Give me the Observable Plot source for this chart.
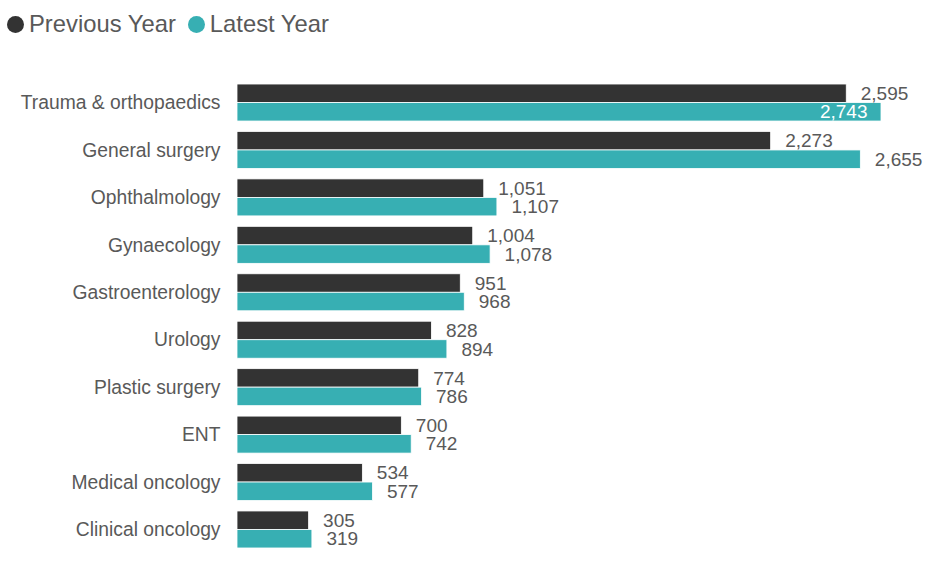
<!DOCTYPE html>
<html>
<head>
<meta charset="utf-8">
<script src="https://cdn.jsdelivr.net/npm/d3@7"></script>
<script src="https://cdn.jsdelivr.net/npm/@observablehq/plot@0.6"></script>
<style>
  html, body { margin: 0; padding: 0; background: #fff; }
  body { width: 930px; font-family: "Liberation Sans", Arial, sans-serif; }
  .legend { height: 50px; display: flex; align-items: center; padding: 0 0 2px 7px; box-sizing: border-box; color: #595959; font-size: 23.8px; }
  .legend .item { display: flex; align-items: center; }
  .legend .item + .item { margin-left: 12px; }
  .legend .swatch { width: 17px; height: 17px; border-radius: 50%; margin-right: 5px; }
  #chart svg { display: block; }
</style>
</head>
<body>
<div class="legend" id="legend"></div>
<div id="chart"></div>
<script>
const categories = [
  "Trauma & orthopaedics", "General surgery", "Ophthalmology", "Gynaecology",
  "Gastroenterology", "Urology", "Plastic surgery", "ENT",
  "Medical oncology", "Clinical oncology"
];
const previousYear = [2595, 2273, 1051, 1004, 951, 828, 774, 700, 534, 305];
const latestYear = [2743, 2655, 1107, 1078, 968, 894, 786, 742, 577, 319];
const seriesNames = ["Previous Year", "Latest Year"];
const seriesColors = ["#333333", "#37afb3"];

const rows = categories.flatMap((category, i) => [
  {category, series: seriesNames[0], value: previousYear[i]},
  {category, series: seriesNames[1], value: latestYear[i]}
]);

const fmt = d3.format(",");
const maxValue = d3.max(rows, d => d.value);
// the longest bar carries its label inside, in white
const inside = d => d.value === maxValue;

// legend
const legend = d3.select("#legend");
seriesNames.forEach((name, i) => {
  const item = legend.append("div").attr("class", "item");
  item.append("span").attr("class", "swatch").style("background", seriesColors[i]);
  item.append("span").text(name);
});

const chart = Plot.plot({
  width: 930,
  height: 515,
  marginLeft: 237,
  marginRight: 49,
  marginTop: 28.8,
  marginBottom: 11.8,
  style: {fontFamily: "'Liberation Sans', Arial, sans-serif", fontSize: "19.3px", color: "#595959", background: "white"},
  facet: {data: rows, y: "category", label: null},
  fy: {domain: categories, axis: "left", paddingInner: 0.22, paddingOuter: 0.11, round: false, tickSize: 0, tickPadding: 17, label: null},
  y: {domain: seriesNames, axis: null, padding: 0, round: false},
  x: {domain: [0, maxValue], axis: null},
  color: {domain: seriesNames, range: seriesColors},
  marks: [
    Plot.barX(rows, {x1: 0, x2: "value", y: "series", fill: "series", stroke: "white", strokeWidth: 0.8}),
    Plot.text(rows, {
      filter: d => !inside(d),
      x: "value", y: "series", text: d => fmt(d.value),
      dx: 14, textAnchor: "start", fill: "#595959", fontSize: 19
    }),
    Plot.text(rows, {
      filter: inside,
      x: "value", y: "series", text: d => fmt(d.value),
      dx: -14, textAnchor: "end", fill: "white", fontSize: 19
    })
  ]
});
document.getElementById("chart").append(chart);
</script>
</body>
</html>
